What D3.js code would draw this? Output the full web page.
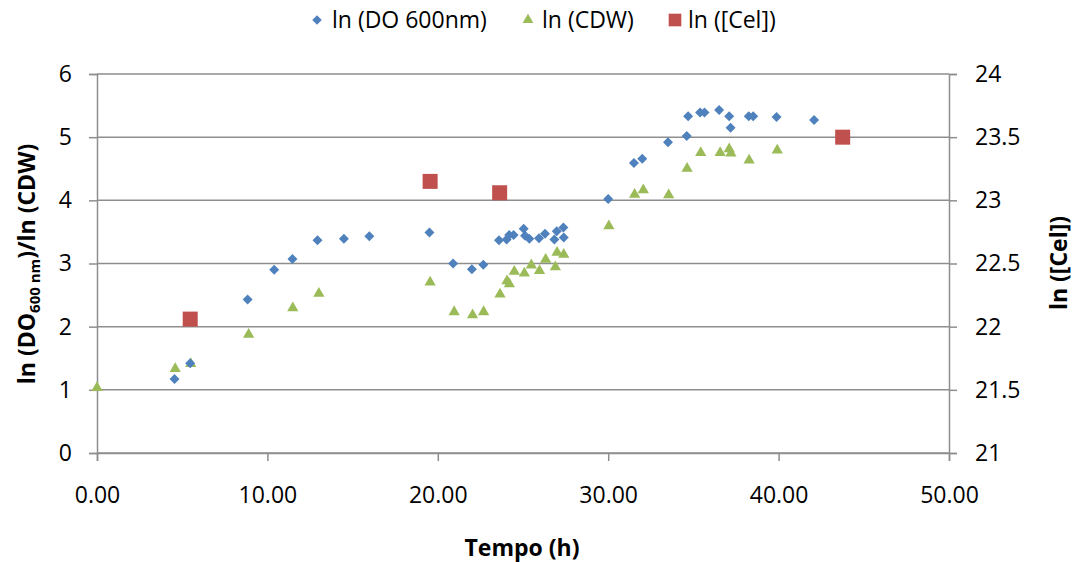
<!DOCTYPE html>
<html>
<head>
<meta charset="utf-8">
<script src="https://cdn.jsdelivr.net/npm/d3@7"></script>
<style>
  html, body { margin: 0; padding: 0; background: #fff; }
  svg { display: block; font-family: "Open Sans", Lato, sans-serif; }
</style>
</head>
<body>
<svg id="chart" width="1075" height="562"></svg>
<script>
// ln(DO 600nm) over time
const doTime = [4.55, 5.47, 8.84, 10.4, 11.47, 12.94, 14.49, 15.98, 19.51, 20.9, 22.0, 22.67, 23.59, 24.04, 24.19, 24.45, 25.04, 25.12, 25.37, 25.94, 26.29, 26.84, 26.98, 27.37, 27.39, 30.0, 31.51, 32.0, 33.51, 34.61, 34.69, 35.39, 35.65, 36.51, 37.1, 37.18, 38.25, 38.51, 39.88, 42.08];
const doVal  = [1.17, 1.42, 2.43, 2.90, 3.07, 3.37, 3.39, 3.43, 3.49, 3.00, 2.91, 2.98, 3.37, 3.38, 3.45, 3.45, 3.55, 3.44, 3.39, 3.40, 3.47, 3.38, 3.51, 3.57, 3.41, 4.02, 4.59, 4.66, 4.92, 5.02, 5.33, 5.39, 5.39, 5.43, 5.33, 5.15, 5.33, 5.33, 5.32, 5.27];

// ln(CDW) over time
const cdwTime = [0.0, 4.59, 5.5, 8.9, 11.49, 13.02, 19.55, 20.96, 22.04, 22.69, 23.65, 24.06, 24.2, 24.49, 25.08, 25.49, 25.97, 26.33, 26.9, 27.0, 27.39, 30.04, 31.55, 32.06, 33.55, 34.63, 35.43, 36.57, 37.1, 37.2, 38.27, 39.92];
const cdwVal  = [1.05, 1.35, 1.43, 1.89, 2.31, 2.54, 2.72, 2.25, 2.20, 2.25, 2.53, 2.74, 2.69, 2.89, 2.86, 2.99, 2.90, 3.08, 2.96, 3.19, 3.16, 3.61, 4.11, 4.18, 4.10, 4.52, 4.77, 4.77, 4.83, 4.76, 4.65, 4.81];

// ln([Cel]) over time (secondary axis)
const celTime = [5.47, 19.55, 23.63, 43.76];
const celVal  = [22.06, 23.15, 23.06, 23.50];

// Axis ticks
const xTicks = [0, 10, 20, 30, 40, 50];
const yLeftTicks = [0, 1, 2, 3, 4, 5, 6];
const yRightTicks = [21, 21.5, 22, 22.5, 23, 23.5, 24];

const legendLabels = ["ln (DO 600nm)", "ln (CDW)", "ln ([Cel])"];

const colors = { blue: "#4F81BD", green: "#9BBB59", red: "#C0504D" };
const gridColor = "#8E8E8E";
const fontSize = "23px";

const svg = d3.select("#chart");
const plot = { left: 97, right: 949, top: 74, bottom: 453 };

const x = d3.scaleLinear().domain([0, 50]).range([plot.left, plot.right]);
const yL = d3.scaleLinear().domain([0, 6]).range([plot.bottom, plot.top]);
const yR = d3.scaleLinear().domain([21, 24]).range([plot.bottom, plot.top]);

// Horizontal gridlines
svg.append("g").selectAll("line").data(yLeftTicks).join("line")
  .attr("x1", plot.left).attr("x2", plot.right)
  .attr("y1", d => yL(d)).attr("y2", d => yL(d))
  .attr("stroke", gridColor).attr("stroke-width", 1.5);

// Left axis
const leftAxis = d3.axisLeft(yL).tickValues(yLeftTicks).tickSize(8).tickPadding(17).tickFormat(d3.format("d"));
const gL = svg.append("g").attr("transform", `translate(${plot.left},0)`).call(leftAxis);

// Right axis
const rightAxis = d3.axisRight(yR).tickValues(yRightTicks).tickSize(8).tickPadding(18)
  .tickFormat(d => d % 1 === 0 ? d3.format("d")(d) : d3.format(".1f")(d));
const gR = svg.append("g").attr("transform", `translate(${plot.right},0)`).call(rightAxis);

// Bottom axis
const bottomAxis = d3.axisBottom(x).tickValues(xTicks).tickSize(8).tickPadding(26).tickFormat(d3.format(".2f"));
const gB = svg.append("g").attr("transform", `translate(0,${plot.bottom})`).call(bottomAxis);

[gL, gR, gB].forEach(g => {
  g.select(".domain").attr("stroke", gridColor).attr("stroke-width", 1.5);
  g.selectAll(".tick line").attr("stroke", gridColor).attr("stroke-width", 1.5);
  g.selectAll(".tick text").attr("fill", "#000").style("font-size", fontSize)
    .style("font-family", "'Open Sans', Lato, sans-serif");
});

// Marker shapes
const diamond = d3.symbol().type(d3.symbolSquare).size(50)();
const triangle = d3.symbol().type(d3.symbolTriangle).size(55)();
const square = d3.symbol().type(d3.symbolSquare).size(225)();

// CDW triangles
svg.append("g").selectAll("path").data(d3.zip(cdwTime, cdwVal)).join("path")
  .attr("d", triangle)
  .attr("transform", d => `translate(${x(d[0])},${yL(d[1]) + 1})`)
  .attr("fill", colors.green);

// DO diamonds
svg.append("g").selectAll("path").data(d3.zip(doTime, doVal)).join("path")
  .attr("d", diamond)
  .attr("transform", d => `translate(${x(d[0])},${yL(d[1])}) rotate(45)`)
  .attr("fill", colors.blue);

// Cel squares on the secondary axis
svg.append("g").selectAll("path").data(d3.zip(celTime, celVal)).join("path")
  .attr("d", square)
  .attr("transform", d => `translate(${x(d[0])},${yR(d[1])})`)
  .attr("fill", colors.red);

// Axis titles
svg.append("text")
  .attr("x", 522).attr("y", 556)
  .attr("text-anchor", "middle").attr("font-weight", "bold").style("font-size", fontSize)
  .text("Tempo (h)");

const yTitle = svg.append("text")
  .attr("transform", "translate(35,264) rotate(-90)")
  .attr("text-anchor", "middle").attr("font-weight", "bold").style("font-size", fontSize);
yTitle.append("tspan").text("ln (DO");
yTitle.append("tspan").text("600 nm").style("font-size", "15px").attr("dy", 5);
yTitle.append("tspan").text(")/ln (CDW)").attr("dy", -5);

svg.append("text")
  .attr("transform", "translate(1067,263) rotate(-90)")
  .attr("text-anchor", "middle").attr("font-weight", "bold").style("font-size", fontSize)
  .text("ln ([Cel])");

// Legend
const legendItems = [
  { label: legendLabels[0], shape: d3.symbol().type(d3.symbolSquare).size(45)(), rot: 45, color: colors.blue, mx: 317, tx: 332 },
  { label: legendLabels[1], shape: d3.symbol().type(d3.symbolTriangle).size(50)(), rot: 0, color: colors.green, mx: 528, tx: 542 },
  { label: legendLabels[2], shape: d3.symbol().type(d3.symbolSquare).size(160)(), rot: 0, color: colors.red, mx: 675, tx: 688 }
];
const legend = svg.append("g");
legendItems.forEach(it => {
  legend.append("path").attr("d", it.shape)
    .attr("transform", `translate(${it.mx},20) rotate(${it.rot})`)
    .attr("fill", it.color);
  legend.append("text").attr("x", it.tx).attr("y", 28)
    .style("font-size", fontSize).text(it.label);
});
</script>
</body>
</html>
